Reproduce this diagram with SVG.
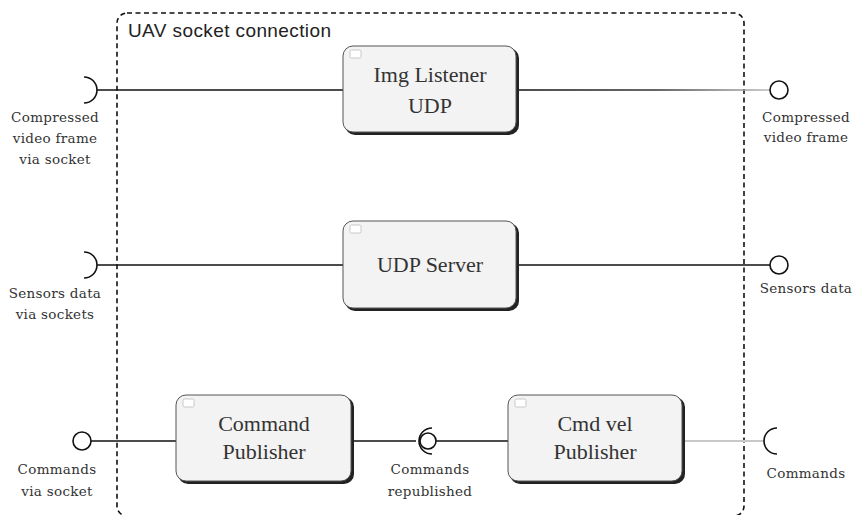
<svg xmlns="http://www.w3.org/2000/svg" width="855" height="515" viewBox="0 0 855 515">
  <style>
    .frame { fill: none; stroke: #111; stroke-width: 1.6; stroke-dasharray: 5 3.5; }
    .title { font-family: "Liberation Sans", "DejaVu Sans", sans-serif; font-size: 19px; letter-spacing: 0.4px; fill: #222; }
    .box { fill: #f3f3f3; stroke: #555; stroke-width: 1; }
    .shadow { fill: #222; }
    .icon { fill: #fff; stroke: #bbb; stroke-width: 0.8; }
    .name { font-family: "Liberation Serif", "DejaVu Serif", serif; font-size: 22px; fill: #333; text-anchor: middle; }
    .lbl { font-family: "DejaVu Serif", "Liberation Serif", serif; font-size: 13.5px; letter-spacing: 0.3px; fill: #333; text-anchor: middle; }
    .wire { stroke: #111; stroke-width: 1.6; fill: none; }
    .wire-light { stroke: #c8c8c8; stroke-width: 1.8; fill: none; }
    .ball { fill: #fff; stroke: #111; stroke-width: 1.6; }
    .cup { fill: none; stroke: #111; stroke-width: 1.6; }
  </style>
  <defs>
    <linearGradient id="fade" x1="517" y1="0" x2="770" y2="0" gradientUnits="userSpaceOnUse">
      <stop offset="0" stop-color="#111"/>
      <stop offset="0.55" stop-color="#333"/>
      <stop offset="1" stop-color="#bbb"/>
    </linearGradient>
  </defs>

  <rect width="855" height="515" fill="#fff"/>

  <!-- package frame -->
  <g id="uav-socket-connection">
    <rect class="frame" x="117" y="13" width="627" height="503" rx="10"/>
    <text class="title" x="128" y="37">UAV socket connection</text>
  </g>

  <!-- connectors -->
  <g id="connectors">
    <line class="wire" x1="97" y1="90" x2="343" y2="90"/>
    <line x1="517" y1="90" x2="770" y2="90" stroke="url(#fade)" stroke-width="1.6"/>
    <line class="wire" x1="97" y1="265" x2="343" y2="265"/>
    <line class="wire" x1="517" y1="265" x2="770" y2="265"/>
    <line class="wire" x1="91" y1="441" x2="176" y2="441"/>
    <line class="wire" x1="353" y1="441" x2="416" y2="441"/>
    <line class="wire" x1="436" y1="441" x2="508" y2="441"/>
    <line class="wire-light" x1="683" y1="441" x2="764" y2="441"/>
  </g>

  <!-- interfaces -->
  <g id="if-video-in">
    <path class="cup" d="M84 77 A13 13 0 0 1 84 103"/>
    <text class="lbl" x="55" y="122">Compressed</text>
    <text class="lbl" x="55" y="143">video frame</text>
    <text class="lbl" x="55" y="164">via socket</text>
  </g>
  <g id="if-video-out">
    <circle class="ball" cx="779" cy="90" r="9"/>
    <text class="lbl" x="806" y="122">Compressed</text>
    <text class="lbl" x="806" y="142">video frame</text>
  </g>
  <g id="if-sensors-in">
    <path class="cup" d="M84 252 A13 13 0 0 1 84 278"/>
    <text class="lbl" x="55" y="298">Sensors data</text>
    <text class="lbl" x="55" y="319">via sockets</text>
  </g>
  <g id="if-sensors-out">
    <circle class="ball" cx="779" cy="265" r="9"/>
    <text class="lbl" x="806" y="293">Sensors data</text>
  </g>
  <g id="if-commands-in">
    <circle class="ball" cx="82" cy="441" r="9"/>
    <text class="lbl" x="57" y="474">Commands</text>
    <text class="lbl" x="57" y="496">via socket</text>
  </g>
  <g id="if-commands-republished">
    <path class="cup" d="M432 428 A13 13 0 0 0 432 454"/>
    <circle class="ball" cx="428" cy="441" r="8"/>
    <text class="lbl" x="430" y="474">Commands</text>
    <text class="lbl" x="430" y="496">republished</text>
  </g>
  <g id="if-commands-out">
    <path class="cup" d="M777 428 A13 13 0 0 0 777 454"/>
    <text class="lbl" x="806" y="478">Commands</text>
  </g>

  <!-- components -->
  <g id="img-listener-udp">
    <rect class="shadow" x="345" y="48" width="174" height="87" rx="10"/>
    <rect class="box" x="343" y="46" width="173" height="86" rx="10"/>
    <rect class="icon" x="350" y="50" width="11" height="8" rx="1.5"/>
    <text class="name" x="430" y="82">Img Listener</text>
    <text class="name" x="430" y="113">UDP</text>
  </g>
  <g id="udp-server">
    <rect class="shadow" x="345" y="223" width="174" height="88" rx="10"/>
    <rect class="box" x="343" y="221" width="173" height="87" rx="10"/>
    <rect class="icon" x="350" y="225" width="11" height="8" rx="1.5"/>
    <text class="name" x="430" y="272">UDP Server</text>
  </g>
  <g id="command-publisher">
    <rect class="shadow" x="178" y="397" width="176" height="87" rx="10"/>
    <rect class="box" x="176" y="395" width="175" height="86" rx="10"/>
    <rect class="icon" x="183" y="399" width="11" height="8" rx="1.5"/>
    <text class="name" x="264" y="431">Command</text>
    <text class="name" x="264" y="459">Publisher</text>
  </g>
  <g id="cmd-vel-publisher">
    <rect class="shadow" x="510" y="397" width="175" height="87" rx="10"/>
    <rect class="box" x="508" y="395" width="174" height="86" rx="10"/>
    <rect class="icon" x="515" y="399" width="11" height="8" rx="1.5"/>
    <text class="name" x="595" y="431">Cmd vel</text>
    <text class="name" x="595" y="459">Publisher</text>
  </g>
</svg>
